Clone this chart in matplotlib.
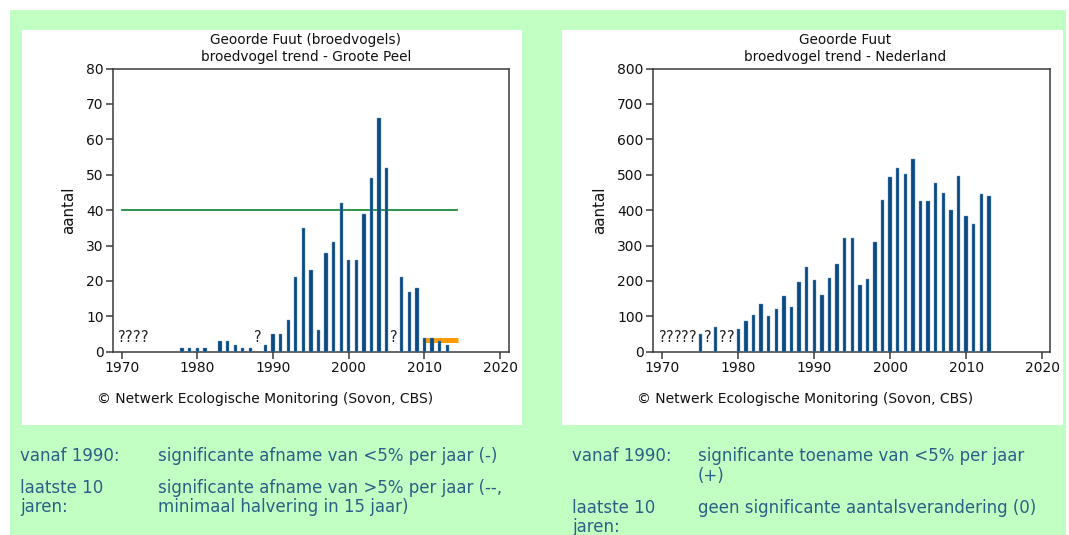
import matplotlib
matplotlib.use("Agg")
import matplotlib.pyplot as plt
from matplotlib.patches import Rectangle

W, H = 1069, 535

# ---------------- data ----------------
peel_years = [1978, 1979, 1980, 1981, 1983, 1984, 1985, 1986, 1987, 1989, 1990, 1991,
              1992, 1993, 1994, 1995, 1996, 1997, 1998, 1999, 2000, 2001, 2002, 2003,
              2004, 2005, 2007, 2008, 2009, 2010, 2011, 2012, 2013]
peel_counts = [1, 1, 1, 1, 3, 3, 2, 1, 1, 2, 5, 5,
               9, 21, 35, 23, 6, 28, 31, 42, 26, 26, 39, 49,
               66, 52, 21, 17, 18, 4, 4, 3, 2]
peel_unknown = [1970, 1971, 1972, 1973, 1988, 2006]
peel_ref_x = [1970, 2014.3]
peel_ref_y = [40, 40]
peel_trend_x = [2010, 2014.4]
peel_trend_y = [3.3, 3.3]

nl_years = [1975, 1977, 1980, 1981, 1982, 1983, 1984, 1985, 1986, 1987, 1988, 1989,
            1990, 1991, 1992, 1993, 1994, 1995, 1996, 1997, 1998, 1999, 2000, 2001,
            2002, 2003, 2004, 2005, 2006, 2007, 2008, 2009, 2010, 2011, 2012, 2013]
nl_counts = [50, 69, 65, 86, 105, 134, 102, 122, 157, 125, 197, 240,
             202, 161, 209, 249, 320, 320, 189, 205, 309, 428, 493, 520,
             501, 544, 425, 425, 477, 449, 401, 497, 384, 361, 445, 441]
nl_unknown = [1970, 1971, 1972, 1973, 1974, 1976, 1978, 1979]

xticks = [1970, 1980, 1990, 2000, 2010, 2020]
peel_yticks = [0, 10, 20, 30, 40, 50, 60, 70, 80]
nl_yticks = [0, 100, 200, 300, 400, 500, 600, 700, 800]

titles_left = ["Geoorde Fuut (broedvogels)", "broedvogel trend - Groote Peel"]
titles_right = ["Geoorde Fuut", "broedvogel trend - Nederland"]
ylabel = "aantal"
credit = "\u00a9 Netwerk Ecologische Monitoring (Sovon, CBS)"

# ---------------- styles ----------------
GREEN_BG = "#C2FFC2"
BAR = "#0B4A80"
SPINE = "#3a3a3a"
TXT = "#2A6088"
FONT = "DejaVu Sans"

fig = plt.figure(figsize=(W / 100, H / 100), dpi=100)
fig.patch.set_facecolor("white")


def fr(x0, y0, x1, y1):
    return [x0 / W, 1 - y1 / H, (x1 - x0) / W, (y1 - y0) / H]


def rect(x0, y0, x1, y1, color):
    b = fr(x0, y0, x1, y1)
    fig.patches.append(Rectangle((b[0], b[1]), b[2], b[3], transform=fig.transFigure,
                                 facecolor=color, edgecolor="none", zorder=-10))


rect(10, 10, 1066, 535, GREEN_BG)
rect(22, 30, 522, 425, "white")
rect(562, 30, 1063, 425, "white")


def make_axes(box, years, counts, unknown, ylim, yticks, xlim, qy):
    ax = fig.add_axes(box)
    ax.bar(years, counts, width=0.45, color=BAR, edgecolor="#6f9cc4", linewidth=0.3, zorder=3)
    for u in unknown:
        ax.text(u, qy, "?", ha="center", va="center", fontsize=10.5, color="#222222",
                family=FONT)
    ax.set_xlim(*xlim)
    ax.set_ylim(*ylim)
    ax.set_xticks(xticks)
    ax.set_yticks(yticks)
    ax.tick_params(direction="out", length=5, width=1.1, color=SPINE, labelsize=10,
                   labelcolor="#111111", pad=2)
    for s in ax.spines.values():
        s.set_color(SPINE)
        s.set_linewidth(1.1)
    for lab in ax.get_xticklabels() + ax.get_yticklabels():
        lab.set_family(FONT)
    ax.set_ylabel(ylabel, fontsize=10.8, family=FONT, labelpad=7, color="#111111")
    ax.set_facecolor("white")
    return ax


axL = make_axes(fr(113.3, 68.5, 509.3, 351.7), peel_years, peel_counts, peel_unknown,
                (0, 80), peel_yticks, (1968.9, 2021.2), 4.0)
axL.plot(peel_ref_x, peel_ref_y, color="#1E8B3C", lw=1.3, zorder=2)
axL.plot(peel_trend_x, peel_trend_y, color="#FF9A00", lw=3.6, zorder=2, solid_capstyle="butt")

axR = make_axes(fr(653.3, 68.5, 1050, 351.7), nl_years, nl_counts, nl_unknown,
                (0, 800), nl_yticks, (1968.8, 2021.05), 40)

# titles
for cx, lines in ((306, titles_left), (845, titles_right)):
    fig.text(cx / W, 1 - 40 / H, lines[0], ha="center", va="center", fontsize=9.8,
             family=FONT, color="#111111")
    fig.text(cx / W, 1 - 57 / H, lines[1], ha="center", va="center", fontsize=9.8,
             family=FONT, color="#111111")

# credits
for cx in (265, 805):
    fig.text(cx / W, 1 - 399 / H, credit, ha="center", va="center", fontsize=10,
             family=FONT, color="#111111")

# bottom notes (x, baseline y, text)
notes = [
    (20, 461, "vanaf 1990:"),
    (158, 461, "significante afname van <5% per jaar (-)"),
    (20, 493, "laatste 10"),
    (20, 512, "jaren:"),
    (158, 493, "significante afname van >5% per jaar (--,"),
    (158, 512, "minimaal halvering in 15 jaar)"),
    (572, 461, "vanaf 1990:"),
    (698, 461, "significante toename van <5% per jaar"),
    (698, 481, "(+)"),
    (572, 513, "laatste 10"),
    (572, 532, "jaren:"),
    (698, 513, "geen significante aantalsverandering (0)"),
]
for x, y, t in notes:
    fig.text(x / W, 1 - y / H, t, ha="left", va="baseline", fontsize=12, family=FONT,
             color=TXT)

fig.savefig("out.png", dpi=100, facecolor=fig.get_facecolor())
